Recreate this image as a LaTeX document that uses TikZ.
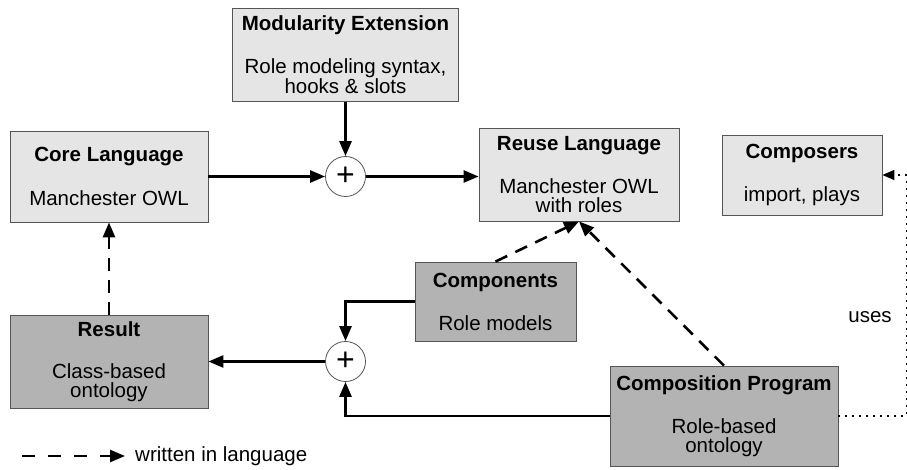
\documentclass[tikz,border=0pt]{standalone}
\usepackage{fontspec}
\setmainfont{Liberation Sans}
\usetikzlibrary{shapes,arrows.meta,calc}
\definecolor{lightbox}{HTML}{E5E5E5}
\definecolor{darkbox}{HTML}{B3B3B3}
\definecolor{boxline}{HTML}{555555}
\tikzset{box/.style={draw=boxline, fill=lightbox, rectangle, line width=0.8pt, align=center, inner sep=0pt, font=\fontsize{20.5}{19}\selectfont}}
\tikzset{input/.style={box, fill=darkbox}}
\tikzset{plus/.style={draw=boxline, fill=white, circle, line width=0.8pt, minimum size=40pt, inner sep=0pt, font=\fontsize{32}{32}\selectfont}}
\tikzset{note/.style={inner sep=5pt, font=\fontsize{20.5}{19}\selectfont}}
\tikzset{line/.style={draw, line width=2.6pt, -{Triangle[length=15pt,width=12pt]}}}
\tikzset{written/.style={line, dash pattern=on 13pt off 9pt}}
\tikzset{uses/.style={draw, line width=1.5pt, dash pattern=on 2pt off 5pt, -{Triangle[length=12pt,width=10pt]}}}

\begin{document}
\begin{tikzpicture}[x=1pt,y=-1pt]
\useasboundingbox (0,0) rectangle (907,470);

\node [box, minimum width=198pt, minimum height=91pt] (core) at (109,176.5) {{\bfseries Core Language}\\[23pt]Manchester OWL};
\node [plus, right of=core, node distance=236.5pt] (plus1) {+};
\node [box, above of=plus1, node distance=121.5pt, minimum width=226pt, minimum height=93pt] (modext) {{\bfseries Modularity Extension}\\[23pt]Role modeling syntax,\\hooks \& slots};
\node [box, minimum width=200pt, minimum height=93pt] (reuse) at (579,174.5) {{\bfseries Reuse Language}\\[23pt]Manchester OWL\\with roles};
\node [box, minimum width=160pt, minimum height=80pt] (composers) at (802,175) {{\bfseries Composers}\\[23pt]import, plays};

\node [input, below of=core, node distance=185pt, minimum width=198pt, minimum height=93pt] (result) {{\bfseries Result}\\[23pt]Class-based\\ontology};
\node [plus, right of=result, node distance=236.5pt] (plus2) {+};
\node [input, minimum width=161pt, minimum height=79pt] (components) at (495.5,301.5) {{\bfseries Components}\\[23pt]Role models};
\node [input, minimum width=228pt, minimum height=100pt] (cp) at (724,416) {{\bfseries Composition Program}\\[23pt]Role-based\\ontology};

\node [note] (uses) at (870,317) {uses};
\coordinate (legend) at (22,456);
\node [note, right] (legendtext) at (130,456) {written in language};

%COMPOSITION
\path [line] (core) -- (plus1);
\path [line] (modext) -- (plus1);
\path [line] (plus1) -- (plus1 -| reuse.west);
\path [line] (components.west) -| (plus2.north);
\path [line] (cp.west) -| (plus2.south);
\path [line] (plus2) -- (result);

%WRITTEN IN LANGUAGE
\path [written] (result) -- (core);
\path [written] (components.north) -- (reuse.south);
\path [written] (cp.north) -- (reuse.south);
\path [written, dash pattern=on 13pt off 13pt, shorten >=5pt] (legend) -- (legendtext.west);

%USES
\path [uses] (cp.east) -- ++(68,0) |- (composers.east);

\end{tikzpicture}
\end{document}
